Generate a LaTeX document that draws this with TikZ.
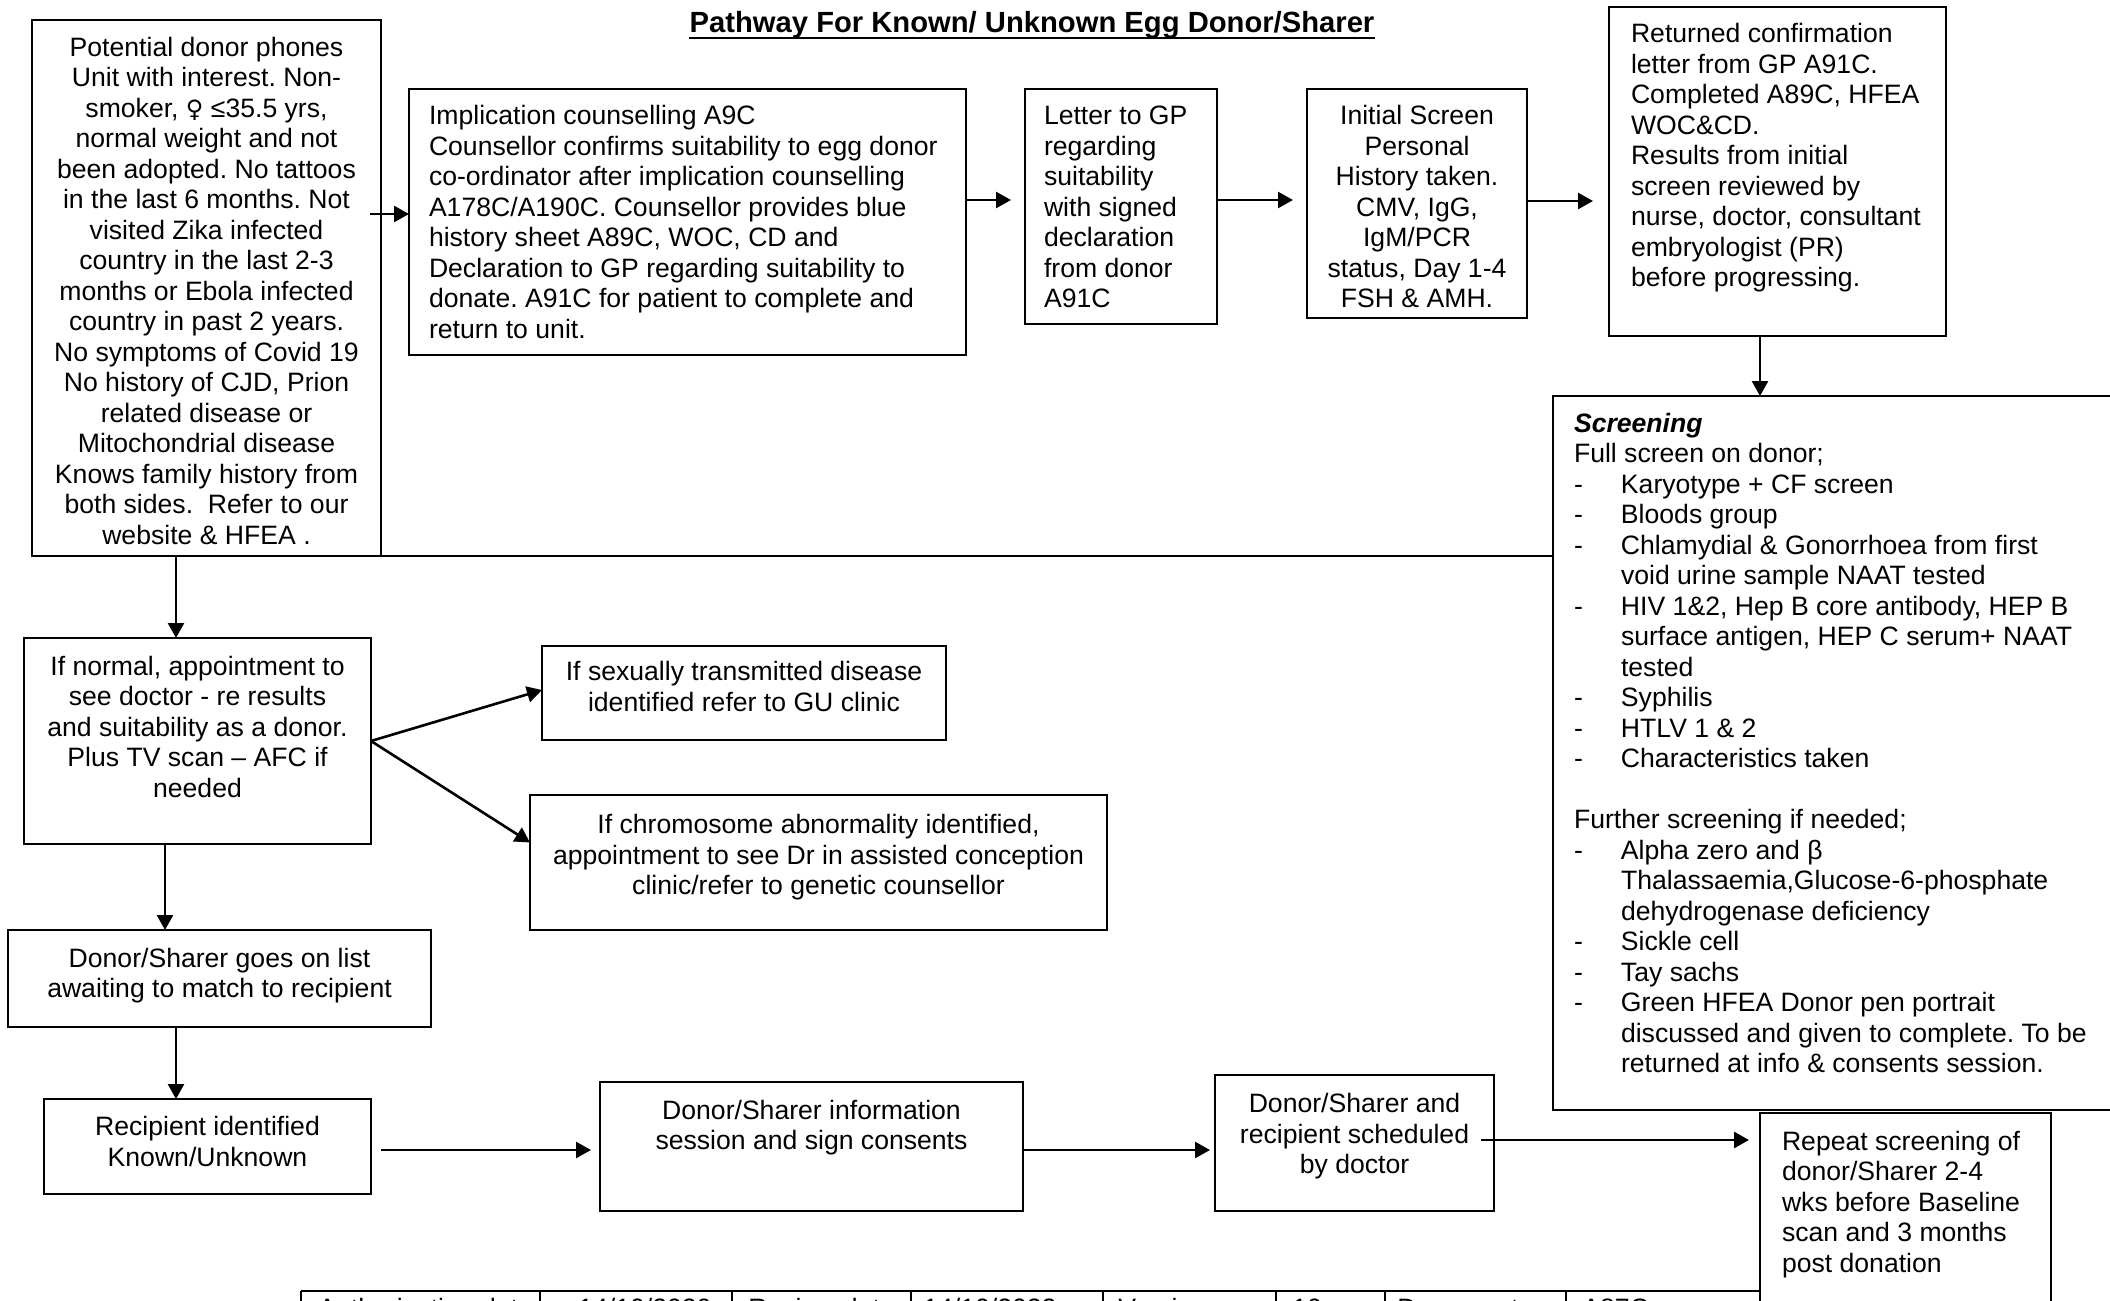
\documentclass[tikz,border=0pt]{standalone}
\usepackage{fontspec}
\setmainfont{Liberation Sans}
\newfontfamily\dejavu{DejaVu Sans}
\usetikzlibrary{arrows.meta,calc}
\newcommand{\cbx}[4]{\parbox[c][#1pt][t]{#2pt}{\centering\vspace*{#3pt}\strut#4}}
\newcommand{\lbx}[4]{\parbox[c][#1pt][t]{#2pt}{\raggedright\vspace*{#3pt}\strut#4}}
\newcommand{\di}{\makebox[23.5pt][l]{-}}
\newcommand{\ci}{\hspace*{23.5pt}}
\frenchspacing
\begin{document}
\begin{tikzpicture}[x=1pt,y=-1pt,
  every node/.style={font=\fontsize{13.3}{15.25}\selectfont},
  box/.style={draw, line width=1pt, inner ysep=0pt, outer sep=0pt, anchor=north west},
  arr/.style={line width=1.3pt, -{Triangle[length=7.5pt,width=8pt]}},
  ln/.style={line width=1pt},
  tab/.style={anchor=base west, inner sep=0pt}]
\useasboundingbox (0,0) rectangle (1055,650.5);
\fill[white] (0,0) rectangle (1055,650.5);

% title
\node[anchor=base, inner sep=0pt, font=\fontsize{14.6}{16}\selectfont\bfseries] (title) at (516,16.3)
  {Pathway For Known/ Unknown Egg Donor/Sharer};
\draw[line width=1.1pt] ($(title.base west)+(0,2.6)$) -- ($(title.base east)+(0,2.6)$);

% boxes
\node[box, inner xsep=4pt] (A) at (16,10) {\cbx{268}{166.5}{7.5}{Potential donor phones\\
Unit with interest. Non-\\
smoker, {\dejavu\fontsize{12}{15.25}\selectfont ♀} ≤35.5 yrs,\\
normal weight and not\\
been adopted. No tattoos\\
in the last 6 months. Not\\
visited Zika infected\\
country in the last 2-3\\
months or Ebola infected\\
country in past 2 years.\\
No symptoms of Covid 19\\
No history of CJD, Prion\\
related disease or\\
Mitochondrial disease\\
Knows family history from\\
both sides.\ \ Refer to our\\
website \& HFEA .}};

\node[box, inner xsep=10pt] (B) at (204.5,44.5) {\lbx{133}{258.5}{7.3}{Implication counselling A9C\\
Counsellor confirms suitability to egg donor\\
co-ordinator after implication counselling\\
A178C/A190C. Counsellor provides blue\\
history sheet A89C, WOC, CD and\\
Declaration to GP regarding suitability to\\
donate. A91C for patient to complete and\\
return to unit.}};

\node[box, inner xsep=9.5pt] (C) at (512.5,44.5) {\lbx{117.5}{77}{7.3}{Letter to GP\\
regarding\\
suitability\\
with signed\\
declaration\\
from donor\\
A91C}};

\node[box, inner xsep=3pt] (D) at (653.5,44.5) {\cbx{114.5}{104}{7.3}{Initial Screen\\
Personal\\
History taken.\\
CMV, IgG,\\
IgM/PCR\\
status, Day 1-4\\
FSH \& AMH.}};

\node[box, inner xsep=11pt] (E) at (804.5,3.5) {\lbx{164.5}{146.5}{7.3}{Returned confirmation\\
letter from GP A91C.\\
Completed A89C, HFEA\\
WOC\&CD.\\
Results from initial\\
screen reviewed by\\
nurse, doctor, consultant\\
embryologist (PR)\\
before progressing.}};

\node[box, inner xsep=10.5pt] (F) at (776.5,198) {\lbx{357}{267.5}{7.5}{{\bfseries\itshape Screening}\\
Full screen on donor;\\
\di Karyotype + CF screen\\
\di Bloods group\\
\di Chlamydial \& Gonorrhoea from first\\
\ci void urine sample NAAT tested\\
\di HIV 1\&2, Hep B core antibody, HEP B\\
\ci surface antigen, HEP C serum+ NAAT\\
\ci tested\\
\di Syphilis\\
\di HTLV 1 \& 2\\
\di Characteristics taken\\
\mbox{}\\
Further screening if needed;\\
\di Alpha zero and β\\
\ci Thalassaemia,Glucose-6-phosphate\\
\ci dehydrogenase deficiency\\
\di Sickle cell\\
\di Tay sachs\\
\di Green HFEA Donor pen portrait\\
\ci discussed and given to complete. To be\\
\ci returned at info \& consents session.}};

\node[box, inner xsep=3pt] (G) at (12,319) {\cbx{103}{167.5}{7.9}{If normal, appointment to\\
see doctor - re results\\
and suitability as a donor.\\
Plus TV scan – AFC if\\
needed}};

\node[box, inner xsep=3pt] (H) at (271,323) {\cbx{47}{196}{6.7}{If sexually transmitted disease\\
identified refer to GU clinic}};

\node[box, inner xsep=3pt] (I) at (265,397.5) {\cbx{67.5}{282.5}{8.8}{If chromosome abnormality identified,\\
appointment to see Dr in assisted conception\\
clinic/refer to genetic counsellor}};

\node[box, inner xsep=3pt] (J) at (4,465) {\cbx{48.5}{205.5}{8}{Donor/Sharer goes on list\\
awaiting to match to recipient}};

\node[box, inner xsep=3pt] (K) at (22,549.5) {\cbx{47.5}{157.5}{7.6}{Recipient identified\\
Known/Unknown}};

\node[box, inner xsep=3pt] (L) at (300,541) {\cbx{64.5}{205.5}{8}{Donor/Sharer information\\
session and sign consents}};

\node[box, inner xsep=3pt] (M) at (607.5,537.5) {\cbx{68}{133.5}{8.1}{Donor/Sharer and\\
recipient scheduled\\
by doctor}};

\node[box, inner xsep=11pt] (N) at (880,556.5) {\lbx{108.5}{123.5}{8}{Repeat screening of\\
donor/Sharer 2-4\\
wks before Baseline\\
scan and 3 months\\
post donation}};

% connectors
\draw[arr] ($(A.east)+(-5.5,-37)$) coordinate (ab) -- (ab -| B.west);
\draw[arr] ($(B.east)+(0,-11)$) coordinate (bc) -- ($(bc -| C.west)+(-7,0)$);
\draw[arr] ($(C.east)+(0,-3.25)$) coordinate (cd) -- ($(cd -| D.west)+(-7,0)$);
\draw[arr] ($(D.east)+(0,-1.25)$) coordinate (de) -- ($(de -| E.west)+(-8,0)$);
\draw[arr] ($(E.south)+(-8.75,0)$) coordinate (ef) -- (ef |- F.north);
\draw[ln] (A.south east) -- (A.south east -| F.west);
\draw[arr] ($(A.south)+(-15.25,0)$) coordinate (ag) -- (ag |- G.north);
\draw[arr] (G.east) -- ($(H.west)+(0,-1.5)$);
\draw[arr] (G.east) -- ($(I.west)+(0,-10)$);
\draw[arr] ($(G.south)+(-16.25,0)$) coordinate (gj) -- (gj |- J.north);
\draw[arr] ($(J.south)+(-21.75,0)$) coordinate (jk) -- (jk |- K.north);
\draw[arr] ($(K.east)+(5,1.75)$) coordinate (kl) -- ($(kl -| L.west)+(-4.5,0)$);
\draw[arr] ($(L.east)+(0,1.75)$) coordinate (lm) -- ($(lm -| M.west)+(-2.5,0)$);
\draw[arr] ($(M.east)+(-6.5,-1.5)$) coordinate (mn) -- ($(mn -| N.west)+(-5.5,0)$);

% footer table (cut off by page edge, as in the reference)
\draw[ln] (150.5,645.5) -- (880.5,645.5);
\foreach \cx in {150.5,270,366,455.5,551.5,638,692.5,783}
  \draw[ln] (\cx,645.5) -- (\cx,670);
\node[tab] (t1) at (159,658.5) {Authorisation date};
\node[tab] (t2) at (289,658.5) {14/10/2020};
\node[tab] (t3) at (374,658.5) {Review date};
\node[tab] (t4) at (461.5,658.5) {14/10/2022};
\node[tab] (t5) at (559,658.5) {Version};
\node[tab] (t6) at (646,658.5) {10};
\node[tab] (t7) at (698.5,658.5) {Document};
\node[tab] (t8) at (791,658.5) {A87C};
\end{tikzpicture}
\end{document}
